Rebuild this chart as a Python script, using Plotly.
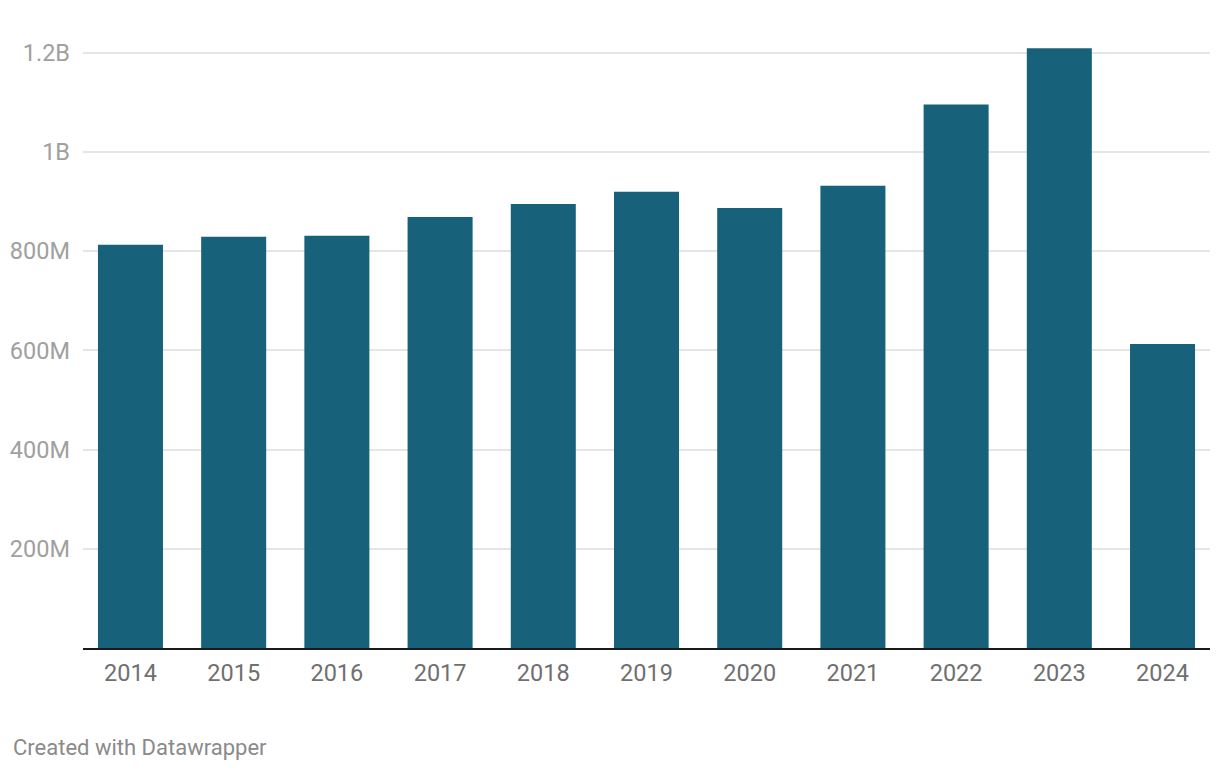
import plotly.graph_objects as go

years = ['2014', '2015', '2016', '2017', '2018', '2019', '2020', '2021', '2022', '2023', '2024']
values = [813e6, 829e6, 831e6, 869e6, 895e6, 920e6, 887e6, 932e6, 1096e6, 1209e6, 613e6]
tick_vals = [200e6, 400e6, 600e6, 800e6, 1000e6, 1200e6]
tick_text = ['200M', '400M', '600M', '800M', '1B', '1.2B']

fig = go.Figure(go.Bar(x=years, y=values, marker_color='#17627A', marker_line_width=0))

# page puts the figure 8px in from the top-left corner
W, H = 1220, 770
ml, mr, mt, mb = 75, 18, 20, 130

fig.update_layout(
    width=W, height=H,
    margin=dict(l=ml, r=mr, t=mt, b=mb),
    plot_bgcolor='white', paper_bgcolor='white',
    bargap=0.37,
    showlegend=False,
    font=dict(family='Roboto', size=23, color='#777777'),
)
fig.update_xaxes(
    type='category', range=[-0.46, 10.46], automargin=False,
    showline=True, linecolor='#1a1a1a', linewidth=2,
    showgrid=False, ticks='', ticklabelstandoff=3,
    tickfont=dict(size=23.5, color='#707070'),
)
fig.update_yaxes(
    range=[0, 1.25e9], tickvals=tick_vals, ticktext=tick_text, automargin=False,
    showgrid=True, gridcolor='#e5e5e5', gridwidth=1.5,
    zeroline=False, ticks='', ticklabelstandoff=12,
    tickfont=dict(size=23.5, color='#a0a0a0'),
)
fig.add_annotation(
    text='Created with Datawrapper', showarrow=False,
    xref='paper', yref='paper',
    x=(3 - ml) / (W - ml - mr), y=-(739 - (H - mb)) / (H - mt - mb),
    xanchor='left', yanchor='middle',
    font=dict(family='Roboto', size=22, color='#8a8a8a'),
)

fig.write_html('out.html')
